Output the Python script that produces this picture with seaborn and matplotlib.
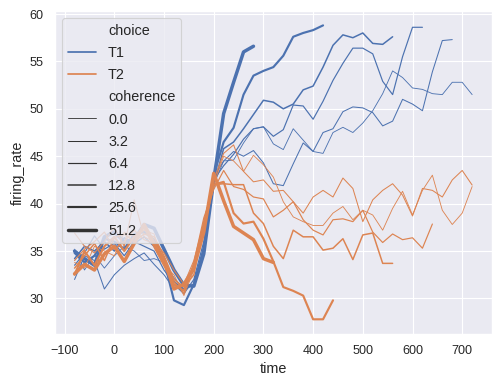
import matplotlib
matplotlib.use("Agg")
import matplotlib.pyplot as plt
import seaborn as sns
import pandas as pd

TIME = [-80, -60, -40, -20, 0, 20, 40, 60, 80, 100, 120, 140, 160, 180, 200,
        220, 240, 260, 280, 300, 320, 340, 360, 380, 400, 420, 440, 460, 480,
        500, 520, 540, 560, 580, 600, 620, 640, 660, 680, 700, 720]

CHOICES = ["T1", "T2"]
COHERENCES = [0.0, 3.2, 6.4, 12.8, 25.6, 51.2]

t1_51_2 = [35.0, 34.2, 33.5, 36.5, 37.0, 36.0, 36.2, 37.8, 37.4, 35.2, 33.0, 31.4, 31.3, 34.7,
           42.5, 49.5, 52.8, 56.0, 56.6]
t1_25_6 = [34.8, 33.8, 34.5, 36.3, 36.0, 35.2, 36.8, 37.0, 36.2, 34.0, 29.8, 29.3, 31.5, 35.0,
           43.0, 46.5, 48.0, 51.5, 53.5, 54.0, 54.4, 55.6, 57.6, 58.0, 58.3, 58.8]
t1_12_8 = [34.2, 35.5, 35.0, 36.0, 35.0, 36.4, 35.8, 36.5, 35.5, 33.6, 31.8, 30.9, 31.5, 35.5,
           42.0, 45.8, 46.5, 47.9, 49.4, 50.9, 50.7, 50.0, 50.5, 52.0, 52.4, 54.4, 56.7, 57.8,
           57.5, 58.0, 56.9, 56.8, 57.6]
t1_6_4 = [33.5, 34.8, 36.6, 35.2, 35.8, 34.5, 36.0, 35.5, 35.0, 33.0, 31.5, 30.5, 32.0, 36.0,
          42.5, 44.0, 45.2, 46.8, 47.9, 48.1, 47.1, 47.8, 50.4, 50.3, 48.9, 50.8, 53.0, 54.8,
          56.4, 56.4, 55.8, 52.9, 51.5, 55.5, 58.6, 58.6]
t1_3_2 = [32.0, 34.5, 34.0, 31.0, 32.5, 33.5, 34.2, 34.8, 33.6, 32.5, 31.0, 31.3, 33.0, 37.0,
          42.8, 44.5, 45.5, 45.0, 45.6, 44.3, 42.1, 41.9, 44.2, 46.4, 45.5, 47.5, 47.9, 49.7,
          50.2, 50.1, 49.6, 48.2, 48.7, 51.0, 50.5, 49.8, 53.9, 57.2, 57.3]
t1_0_0 = [35.2, 33.0, 34.6, 33.2, 34.5, 35.5, 35.0, 34.0, 34.2, 33.8, 32.2, 31.0, 33.5, 38.0,
          42.0, 44.5, 44.6, 46.4, 47.9, 48.1, 46.3, 45.7, 47.9, 46.7, 45.5, 45.3, 47.5, 48.05,
          47.5, 48.5, 49.8, 51.6, 54.0, 53.3, 52.2, 52.05, 51.6, 51.5, 52.8, 52.8, 51.5]

t2_51_2 = [32.6, 33.6, 33.0, 34.7, 35.5, 33.9, 35.8, 37.8, 35.8, 34.1, 31.0, 31.5, 33.2, 37.0,
           43.2, 40.3, 37.6, 36.9, 36.2, 34.2, 33.8]
t2_25_6 = [32.5, 35.0, 33.5, 35.5, 36.5, 35.0, 36.5, 37.5, 35.5, 33.5, 31.5, 30.8, 33.5, 37.5,
           42.0, 42.3, 39.0, 37.9, 38.1, 36.3, 33.9, 31.2, 30.8, 30.3, 27.8, 27.8, 29.8]
t2_12_8 = [33.2, 34.5, 35.8, 34.0, 36.4, 36.8, 36.0, 36.8, 36.5, 34.5, 32.0, 31.2, 32.5, 38.0,
           42.0, 42.1, 42.0, 42.0, 39.0, 37.9, 35.5, 34.2, 37.2, 36.5, 36.5, 35.1, 35.3, 36.3,
           34.1, 36.7, 36.9, 33.7, 33.7]
t2_6_4 = [34.0, 35.2, 36.0, 37.0, 35.2, 36.0, 37.2, 36.2, 35.8, 34.0, 31.8, 30.5, 33.8, 38.5,
          41.5, 43.5, 41.8, 41.5, 40.7, 40.5, 38.6, 39.3, 40.2, 38.3, 37.2, 36.7, 38.3, 38.4,
          38.1, 39.3, 37.0, 35.9, 36.8, 36.2, 36.4, 35.3, 37.85]
t2_3_2 = [36.9, 35.5, 34.8, 36.0, 37.5, 35.5, 40.4, 36.5, 36.0, 34.8, 33.0, 31.5, 34.0, 38.0,
          42.5, 45.3, 46.2, 43.4, 42.3, 42.5, 41.3, 41.4, 40.2, 39.0, 40.7, 41.4, 40.7, 42.7,
          41.6, 38.1, 40.4, 41.4, 42.1, 40.9, 38.7, 41.6, 41.4, 40.7, 42.5, 43.5, 41.96]
t2_0_0 = [33.8, 33.2, 35.5, 35.0, 34.5, 37.0, 36.5, 37.2, 36.8, 33.5, 32.5, 30.3, 33.0, 37.5,
          42.0, 45.0, 44.5, 43.4, 45.1, 44.1, 42.8, 40.2, 38.6, 38.1, 37.7, 37.7, 39.0, 39.7,
          38.3, 39.3, 38.8, 37.2, 39.5, 41.3, 38.8, 41.4, 43.0, 39.3, 37.8, 39.0, 41.8]

series = {
    ("T1", 0.0): t1_0_0, ("T1", 3.2): t1_3_2, ("T1", 6.4): t1_6_4,
    ("T1", 12.8): t1_12_8, ("T1", 25.6): t1_25_6, ("T1", 51.2): t1_51_2,
    ("T2", 0.0): t2_0_0, ("T2", 3.2): t2_3_2, ("T2", 6.4): t2_6_4,
    ("T2", 12.8): t2_12_8, ("T2", 25.6): t2_25_6, ("T2", 51.2): t2_51_2,
}

rows = []
for (choice, coh), vals in series.items():
    for t, v in zip(TIME, vals):
        rows.append({"time": t, "firing_rate": v, "choice": choice, "coherence": coh})
df = pd.DataFrame(rows)

sns.set_theme()
plt.rcParams["font.family"] = ["Liberation Sans", "DejaVu Sans"]
plt.rcParams["legend.fontsize"] = 12.5
DPI = 83
fig, ax = plt.subplots(figsize=(499 / DPI, 386 / DPI), dpi=DPI)
fig.subplots_adjust(left=0.1096, right=0.986, bottom=0.1347, top=0.9723)

sns.lineplot(data=df, x="time", y="firing_rate", hue="choice", hue_order=CHOICES,
             size="coherence", legend="full", ax=ax)
ax.legend(loc="upper left", fontsize=12.5, labelspacing=0.57)
ax.set_xlabel("time", fontsize=12.5)
ax.set_ylabel("firing_rate", fontsize=12.5)

fig.savefig("out.png", dpi=DPI)
